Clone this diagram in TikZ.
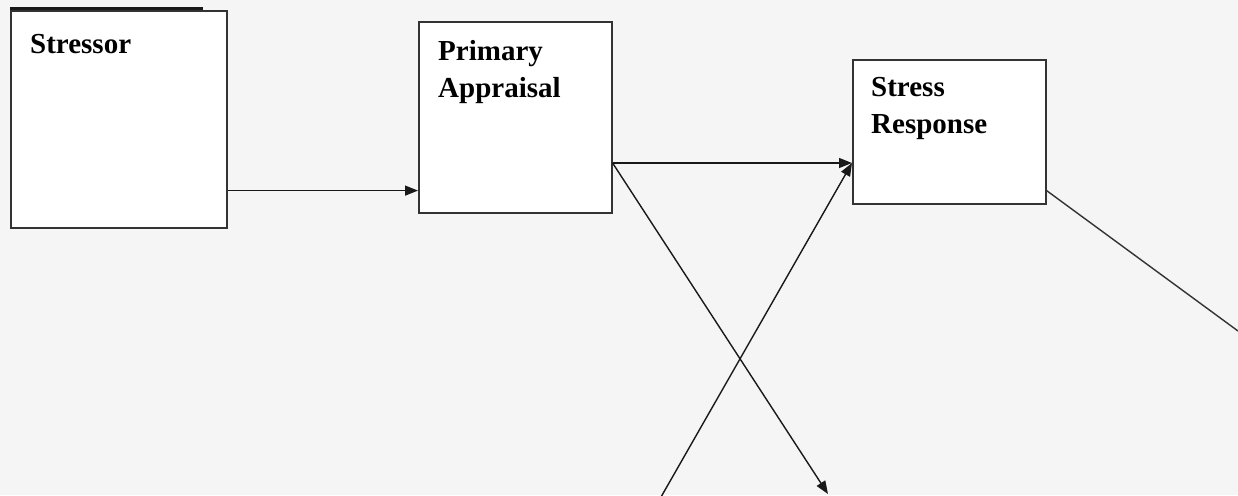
\documentclass[tikz,border=0pt]{standalone}
\usepackage{fontspec}
\setmainfont{Liberation Serif}
\usetikzlibrary{calc, arrows.meta}

\begin{document}
\begin{tikzpicture}[x=1pt, y=-1pt,
        box/.style={rectangle, draw=black!80, fill=white, line width=1.6pt, inner sep=0pt, anchor=north west},
        title/.style={anchor=base west, inner sep=0pt, align=left, font=\fontsize{29}{37}\selectfont\bfseries},
        arrow/.style={-{Triangle[length=13pt, width=10pt]}, line width=1.4pt, draw=black!90},
        link/.style={line width=1.4pt, draw=black!80}
    ]
        \fill[black!4] (0,0) rectangle (1238,495);
        \useasboundingbox (0,0) rectangle (1238,495);

        \node[box, minimum width=216pt, minimum height=217pt] (stressor) at (10,10) {};
        \node[box, minimum width=193pt, minimum height=191pt] (primary) at (418,21) {};
        \node[box, minimum width=193pt, minimum height=144pt] (response) at (852,59) {};
        \draw[line width=2.5pt, black!90] ([yshift=1.5pt]stressor.north west) -- ++(193,0);

        % base anchor sits on the last line
        \node[title] (stressor-title) at ($(stressor.north west)+(20,44)$) {Stressor};
        \node[title] (primary-title) at ($(primary.north west)+(20,76)$) {Primary\\Appraisal};
        \node[title] (response-title) at ($(response.north west)+(19,74)$) {Stress\\Response};

        \coordinate (cross-out) at (828,494);
        \coordinate (cross-in) at (661,497);
        \coordinate (loose-end) at (1238,331);

        \draw[arrow] ([yshift=38pt]stressor.south east) -- ([yshift=23pt]primary.south west);
        \draw[arrow] ([yshift=-142pt]primary.north east) -- ([yshift=-104pt]response.north west);
        \draw[arrow] ([yshift=-142pt]primary.north east) -- (cross-out);
        \draw[arrow] (cross-in) -- ([yshift=-104pt]response.north west);
        \draw[link] ([yshift=14pt]response.south east) -- (loose-end);
    \end{tikzpicture}
\end{document}
